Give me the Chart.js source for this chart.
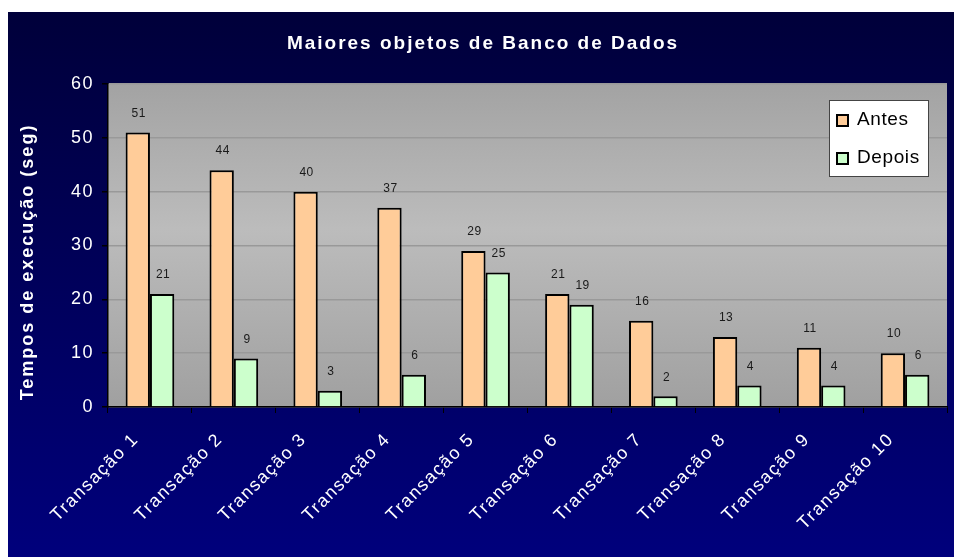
<!DOCTYPE html>
<html>
<head>
<meta charset="utf-8">
<script src="https://cdn.jsdelivr.net/npm/chart.js@4.4.1/dist/chart.umd.min.js"></script>
<style>
  html, body { margin: 0; padding: 0; background: #fff; }
  #wrap { position: absolute; left: 8px; top: 12px; width: 946px; height: 545px; }
</style>
</head>
<body>
<div id="wrap"><canvas id="grafico"></canvas></div>
<script>
// dados do gráfico
const transacoes = ['Transação 1', 'Transação 2', 'Transação 3', 'Transação 4', 'Transação 5',
                    'Transação 6', 'Transação 7', 'Transação 8', 'Transação 9', 'Transação 10'];
const antes = [51, 44, 40, 37, 29, 21, 16, 13, 11, 10];
const depois = [21, 9, 3, 6, 25, 19, 2, 4, 4, 6];
const yTicks = [0, 10, 20, 30, 40, 50, 60];
const titulo = 'Maiores objetos de Banco de Dados';
const tituloY = 'Tempos de execução (seg)';

const FONTE = '"Liberation Sans", Arial, sans-serif';

// espaçamento das letras (parecido com o Excel)
const espacamento = {
  id: 'espacamento',
  beforeUpdate(chart) { chart.ctx.letterSpacing = '1.5px'; },
  beforeDraw(chart) { chart.ctx.letterSpacing = '1.5px'; }
};

// fundo azul + área cinza com degradê
const fundo = {
  id: 'fundo',
  beforeDraw(chart) {
    const { ctx, width, height, chartArea: a } = chart;
    ctx.save();
    let g = ctx.createLinearGradient(0, 0, 0, height);
    g.addColorStop(0, '#00003a');
    g.addColorStop(1, '#00007c');
    ctx.fillStyle = g;
    ctx.fillRect(0, 0, width, height);

    g = ctx.createLinearGradient(0, a.top, 0, a.bottom);
    g.addColorStop(0, '#a3a3a3');
    g.addColorStop(0.45, '#bcbcbc');
    g.addColorStop(1, '#a0a0a0');
    ctx.fillStyle = g;
    ctx.fillRect(a.left, a.top, a.right - a.left, a.bottom - a.top);
    ctx.restore();
  }
};

// títulos (desenhados à mão por causa do espaçamento)
const titulos = {
  id: 'titulos',
  afterDraw(chart) {
    const ctx = chart.ctx;
    ctx.save();
    ctx.fillStyle = '#fff';
    ctx.textAlign = 'center';
    ctx.textBaseline = 'middle';
    ctx.letterSpacing = '2px';
    ctx.font = 'bold 19px ' + FONTE;
    ctx.fillText(titulo, chart.width / 2 + 2, 32);
    ctx.translate(20, 250);
    ctx.rotate(-Math.PI / 2);
    ctx.font = 'bold 18px ' + FONTE;
    ctx.fillText(tituloY, 0, 0);
    ctx.restore();
  }
};

// valores em cima das barras
const rotulos = {
  id: 'rotulos',
  afterDatasetsDraw(chart) {
    const ctx = chart.ctx;
    ctx.save();
    ctx.letterSpacing = '0.5px';
    ctx.font = '12px ' + FONTE;
    ctx.fillStyle = '#1a1a1a';
    ctx.textAlign = 'center';
    ctx.textBaseline = 'middle';
    chart.data.datasets.forEach((ds, i) => {
      chart.getDatasetMeta(i).data.forEach((bar, j) => {
        ctx.fillText(ds.data[j], bar.x + 1, bar.y - 19);
      });
    });
    ctx.restore();
  }
};

// legenda dentro da área do gráfico
const legenda = {
  id: 'legenda',
  afterDraw(chart) {
    const { ctx, chartArea: a } = chart;
    const w = 100, h = 77;
    const x = a.right - 18 - w, y = a.top + 16;
    ctx.save();
    ctx.fillStyle = '#fff';
    ctx.fillRect(x, y, w, h);
    ctx.strokeStyle = '#444';
    ctx.lineWidth = 1;
    ctx.strokeRect(x + 0.5, y + 0.5, w - 1, h - 1);
    ctx.font = '19px ' + FONTE;
    ctx.textBaseline = 'middle';
    ctx.letterSpacing = '0.6px';
    chart.data.datasets.forEach((ds, i) => {
      const cy = y + 20 + i * 38;
      ctx.fillStyle = ds.backgroundColor;
      ctx.fillRect(x + 8, cy - 5, 11, 11);
      ctx.strokeStyle = '#000';
      ctx.lineWidth = 2;
      ctx.strokeRect(x + 8, cy - 5, 11, 11);
      ctx.fillStyle = '#000';
      ctx.fillText(ds.label, x + 28, cy);
    });
    ctx.restore();
  }
};

new Chart(document.getElementById('grafico'), {
  type: 'bar',
  data: {
    labels: transacoes,
    datasets: [
      { label: 'Antes', data: antes, backgroundColor: '#ffcc99', borderColor: '#000', borderWidth: 2 },
      { label: 'Depois', data: depois, backgroundColor: '#ccffcc', borderColor: '#000', borderWidth: 2 }
    ]
  },
  options: {
    responsive: true,
    maintainAspectRatio: false,
    animation: false,
    categoryPercentage: 0.58,
    barPercentage: 1.0,
    layout: { padding: { left: 0, right: 7, top: 72, bottom: 0 } },
    plugins: {
      legend: { display: false },
      tooltip: { enabled: false },
      title: { display: false }
    },
    scales: {
      x: {
        grid: { offset: true, drawOnChartArea: false, drawTicks: true, tickLength: 6, tickColor: '#000' },
        border: { color: '#000', width: 1.5 },
        ticks: {
          color: '#fff',
          font: { family: FONTE, size: 18 },
          minRotation: 45,
          maxRotation: 45,
          padding: 16,
          labelOffset: -14,
          autoSkip: false
        },
        afterFit(scale) { scale.height = 150; }
      },
      y: {
        min: 0,
        max: 60,
        afterBuildTicks(scale) { scale.ticks = yTicks.map(v => ({ value: v })); },
        grid: { color: '#999', lineWidth: 1.5, tickLength: 6, tickColor: '#000' },
        border: { color: '#000', width: 1.5 },
        ticks: { color: '#fff', font: { family: FONTE, size: 18 }, padding: 8 },
        afterFit(scale) { scale.width = 100; }
      }
    }
  },
  plugins: [espacamento, fundo, titulos, rotulos, legenda]
});
</script>
</body>
</html>
